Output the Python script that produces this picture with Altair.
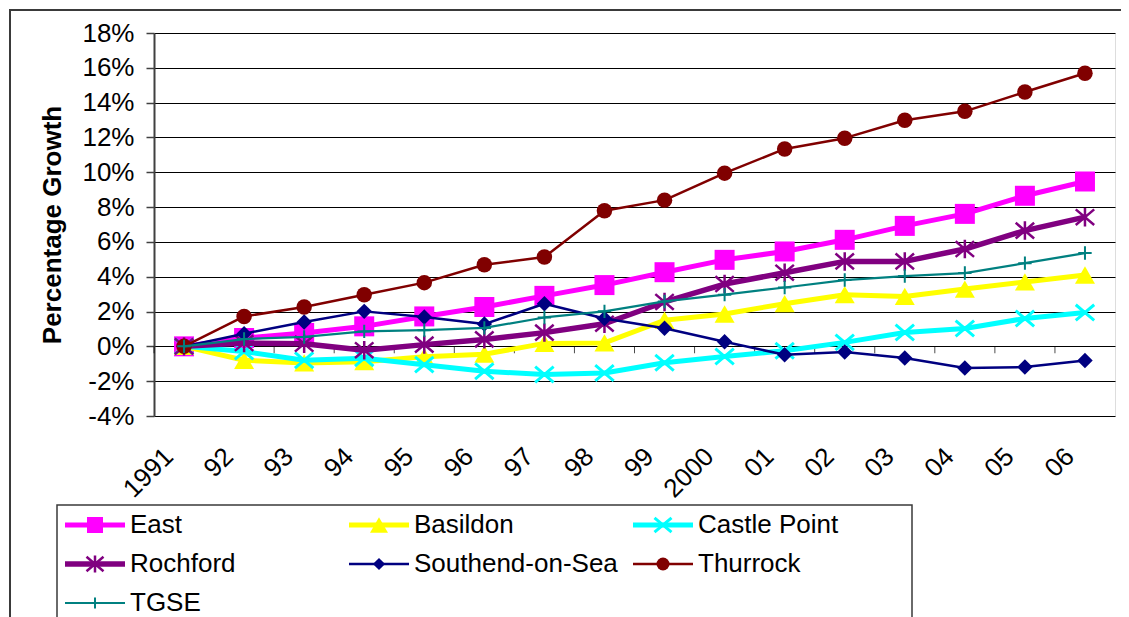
import altair as alt
import pandas as pd

years = ["1991", "92", "93", "94", "95", "96", "97", "98", "99", "2000",
         "01", "02", "03", "04", "05", "06"]

series_names = ["East", "Basildon", "Castle Point", "Rochford",
                "Southend-on-Sea", "Thurrock", "TGSE"]

east = [0, 0.48, 0.77, 1.15, 1.72, 2.26, 2.9, 3.52, 4.26, 4.97, 5.45, 6.12, 6.92, 7.61, 8.65, 9.47]
basildon = [0, -0.8, -0.95, -0.88, -0.6, -0.45, 0.17, 0.2, 1.5, 1.86, 2.45, 2.97, 2.87, 3.29, 3.7, 4.1]
castle_point = [0, -0.3, -0.8, -0.68, -1.05, -1.43, -1.62, -1.53, -0.94, -0.58, -0.25, 0.23, 0.8, 1.03, 1.6, 1.94]
rochford = [0, 0.19, 0.15, -0.22, 0.1, 0.4, 0.79, 1.3, 2.55, 3.58, 4.23, 4.88, 4.88, 5.59, 6.65, 7.42]
southend = [0, 0.73, 1.4, 2.01, 1.69, 1.28, 2.45, 1.6, 1.04, 0.26, -0.48, -0.33, -0.67, -1.24, -1.19, -0.81]
thurrock = [0, 1.72, 2.26, 2.97, 3.66, 4.69, 5.13, 7.79, 8.4, 9.95, 11.34, 11.96, 12.99, 13.5, 14.61, 15.69]
tgse = [0, 0.42, 0.54, 0.86, 0.93, 1.06, 1.66, 2.01, 2.58, 2.97, 3.38, 3.81, 4.04, 4.21, 4.78, 5.36]

y_ticks = list(range(-4, 19, 2))

values = {"East": east, "Basildon": basildon, "Castle Point": castle_point,
          "Rochford": rochford, "Southend-on-Sea": southend,
          "Thurrock": thurrock, "TGSE": tgse}

colors = {"East": "#FF00FF", "Basildon": "#FFFF00", "Castle Point": "#00FFFF",
          "Rochford": "#800080", "Southend-on-Sea": "#000080",
          "Thurrock": "#800000", "TGSE": "#008080"}

line_w = {"East": 5, "Basildon": 5, "Castle Point": 5, "Rochford": 5.5,
          "Southend-on-Sea": 2.5, "Thurrock": 2.5, "TGSE": 2.2}

X_PATH = "M-1,-0.85L1,0.85M-1,0.85L1,-0.85"
STAR_PATH = "M-1,-0.85L1,0.85M-1,0.85L1,-0.85M0,-1L0,1"
PLUS_PATH = "M-1,0L1,0M0,-1L0,1"

# shape, filled, chart size, legend size, stroke width
markers = {"East": ("square", True, 400, 256, 0),
           "Basildon": ("triangle-up", True, 400, 324, 0),
           "Castle Point": (X_PATH, False, 340, 289, 3),
           "Rochford": (STAR_PATH, False, 340, 289, 2.5),
           "Southend-on-Sea": ("diamond", True, 240, 150, 0),
           "Thurrock": ("circle", True, 240, 169, 0),
           "TGSE": (PLUS_PATH, False, 180, 121, 2)}

rows = []
for name in series_names:
    for yr, v in zip(years, values[name]):
        rows.append({"series": name, "year": yr, "growth": v})
df = pd.DataFrame(rows)

legend_rows = [{"series": n, "col": i % 3, "row": i // 3} for i, n in enumerate(series_names)]
legend_df = pd.DataFrame(legend_rows)

FONT = "Liberation Sans"

x_axis = alt.Axis(title=None, labelAngle=-45, labelAlign="right", labelBaseline="middle",
                  labelPadding=36, labelOffset=-15, ticks=False, domain=False, grid=False,
                  labelFontSize=26, labelFont=FONT, labelColor="#000")
y_axis = alt.Axis(values=y_ticks, labelExpr="datum.value + '%'", tickSize=8,
                  tickColor="#404040", tickWidth=1.5, domainColor="#404040", domainWidth=2,
                  grid=True, gridColor="#000000", gridWidth=1, labelFontSize=26,
                  labelFont=FONT, labelColor="#000", labelPadding=12,
                  title="Percentage Growth", titleFontSize=26, titleFont=FONT,
                  titleFontWeight="bold", titleColor="#000", titlePadding=16)

x_scale = alt.Scale(type="band", domain=years, paddingInner=0, paddingOuter=0)
y_scale = alt.Scale(domain=[-4, 18], nice=False, zero=False)

base = alt.Chart(df)
layers = []

# outer chart border
frame = alt.Chart(alt.Data(values=[{"k": 1}])).mark_rect(
    filled=False, stroke="#3a3a3a", strokeWidth=2).encode(
    x=alt.value(-144), x2=alt.value(990), y=alt.value(-23), y2=alt.value(600))
layers.append(frame)

# tick marks on the zero line at category boundaries
ticks = alt.Chart(alt.Data(values=[{"year": y} for y in years])).mark_tick(
    orient="vertical", size=7, thickness=1, yOffset=3.5, color="#000").encode(
    x=alt.X("year:O", scale=x_scale, axis=x_axis, bandPosition=0),
    y=alt.Y(datum=0, scale=y_scale, axis=y_axis))
layers.append(ticks)

for name in series_names:
    shp, filled, size, _, sw = markers[name]
    sub = base.transform_filter(alt.datum.series == name)
    enc = dict(x=alt.X("year:O", scale=x_scale, axis=x_axis, sort=years),
               y=alt.Y("growth:Q", scale=y_scale, axis=y_axis))
    line = sub.mark_line(color=colors[name], strokeWidth=line_w[name],
                         strokeJoin="round").encode(**enc)
    if filled:
        pts = sub.mark_point(shape=shp, filled=True, size=size, color=colors[name],
                             opacity=1, strokeWidth=0).encode(**enc)
    else:
        pts = sub.mark_point(shape=shp, filled=False, size=size, color=colors[name],
                             opacity=1, strokeWidth=sw).encode(**enc)
    layers.append(line)
    layers.append(pts)

main = alt.layer(*layers)

# legend
lx = alt.X("col:Q", scale=alt.Scale(domain=[0, 3], range=[-89, 763]), axis=None)
ly = alt.Y("row:Q", scale=alt.Scale(domain=[0, 2], range=[492, 570]), axis=None)
lbase = alt.Chart(legend_df)
leg_layers = []
leg_box = alt.Chart(alt.Data(values=[{"k": 1}])).mark_rect(
    filled=False, stroke="#3a3a3a", strokeWidth=1.5).encode(
    x=alt.value(-97), x2=alt.value(758), y=alt.value(472), y2=alt.value(620))
leg_layers.append(leg_box)
for name in series_names:
    shp, filled, _, lsize, sw = markers[name]
    sub = lbase.transform_filter(alt.datum.series == name)
    rule = sub.mark_rule(color=colors[name], strokeWidth=line_w[name],
                         x2Offset=60).encode(x=lx, x2=alt.X2("col"), y=ly)
    if filled:
        pt = sub.mark_point(shape=shp, filled=True, size=lsize, color=colors[name],
                            opacity=1, strokeWidth=0, xOffset=30).encode(x=lx, y=ly)
    else:
        pt = sub.mark_point(shape=shp, filled=False, size=lsize, color=colors[name],
                            opacity=1, strokeWidth=sw, xOffset=30).encode(x=lx, y=ly)
    leg_layers.append(rule)
    leg_layers.append(pt)
leg_text = lbase.mark_text(align="left", baseline="middle", xOffset=65, fontSize=26,
                           font=FONT, color="#000").encode(x=lx, y=ly, text="series:N")
leg_layers.append(leg_text)
legend = alt.layer(*leg_layers)

chart = alt.layer(main, legend).resolve_scale(x="independent", y="independent").properties(
    width=961, height=383,
    autosize=alt.AutoSizeParams(type="none"),
    padding={"left": 146, "top": 25, "right": 6, "bottom": 201},
    background="white",
).configure_view(stroke="#808080", strokeWidth=2).configure(font=FONT)

chart.save("out.html", embed_options={"renderer": "svg", "actions": False})
